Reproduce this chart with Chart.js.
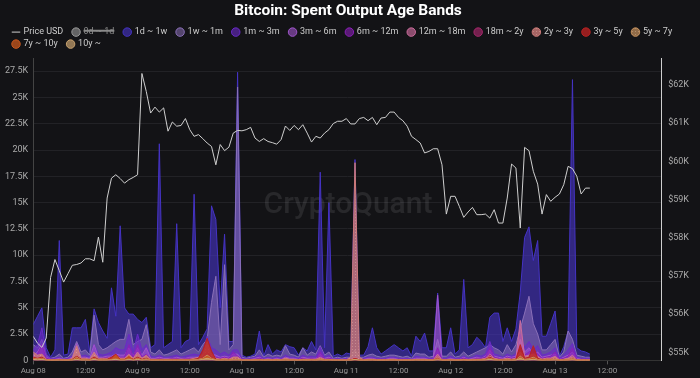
<!DOCTYPE html>
<html><head><meta charset="utf-8">
<script src="https://cdn.jsdelivr.net/npm/chart.js@4.4.1/dist/chart.umd.min.js"></script>
<style>html,body{margin:0;padding:0;background:#131316;}#wrap{width:700px;height:378px;position:relative;}</style>
</head><body><div id="wrap"><canvas id="c"></canvas></div>
<script>
// x positions: hours since Aug 08 00:00
const hours = Array.from({length: 129}, (_, i) => i);
const tickLabels = ["Aug 08","12:00","Aug 09","12:00","Aug 10","12:00","Aug 11","12:00","Aug 12","12:00","Aug 13","12:00"];
const volumeTicks = [0,2.5,5,7.5,10,12.5,15,17.5,20,22.5,25,27.5];
const priceTicks = [55000,56000,57000,58000,59000,60000,61000,62000];
const bandNames = ["0d ~ 1d","1d ~ 1w","1w ~ 1m","1m ~ 3m","3m ~ 6m","6m ~ 12m","12m ~ 18m","18m ~ 2y","2y ~ 3y","3y ~ 5y","5y ~ 7y","7y ~ 10y","10y ~"];

// Price USD
const priceUSD = [
55420,55240,55130,55375,56960,57430,57140,56840,57060,57280,57300,57340,
57450,57450,57400,58020,57360,59040,59560,59650,59550,59430,59520,59580,
59650,62300,61830,61265,61420,61290,61400,60790,61030,60920,60940,61120,
60830,60655,60700,60595,60480,60390,59910,60440,60280,60370,60740,60810,
60800,60830,60890,60610,60520,60595,60520,60490,60450,60570,60925,60810,
60940,60830,60960,60740,60505,60655,60610,60740,60830,60990,61050,61050,
61120,60980,60980,61120,61150,61065,61150,60960,61135,61150,61290,61290,
61150,61065,60920,60655,60570,60480,60220,60260,60330,60330,59910,58620,
59085,59085,58820,58535,58675,58795,58605,58605,58620,58515,58735,58385,
58385,59040,59930,59825,58255,60365,60280,59740,59405,58620,59130,58955,
59060,59145,59390,59870,59810,59610,59145,59300,59300];

// Spent output, thousands of BTC
const band0d1d = [];
const band1d1w = [
3.4,4.2,5.0,1.2,0.3,1.0,11.4,0.5,0.6,3.1,3.1,3.1,
3.9,0.8,4.9,3.6,2.8,2.1,6.9,4.2,12.8,5.0,4.4,4.4,
3.9,3.6,4.1,1.2,1.5,20.6,1.2,1.5,1.8,13.0,1.2,1.8,
2.0,15.8,1.5,2.2,3.0,14.7,13.4,5.0,12.0,1.8,1.8,27.4,
0.5,0.3,0.4,0.6,2.8,0.4,1.5,0.6,1.0,0.8,1.5,1.3,
1.2,0.5,1.2,0.9,1.8,1.0,17.9,1.2,15.0,0.4,0.6,0.4,
0.7,0.6,19.1,0.5,0.5,1.3,3.1,1.2,0.6,0.9,1.2,1.5,
1.2,0.9,1.2,0.4,2.3,1.8,2.6,0.9,0.9,6.4,1.2,1.2,
3.1,0.6,1.0,7.7,1.2,1.5,2.2,1.8,1.2,4.1,4.5,4.5,
1.8,3.1,1.8,3.0,6.5,11.7,12.7,9.5,11.4,2.3,2.3,3.5,
4.7,0.4,1.3,2.8,26.7,1.2,0.9,0.8,0.6];
const band1w1m = [
1.5,1.2,2.0,0.5,0.2,0.3,0.6,0.2,0.3,0.8,1.8,0.8,
1.0,0.5,4.3,1.5,1.0,1.2,1.5,1.8,2.0,2.0,3.9,1.5,
1.8,2.0,3.4,0.8,0.6,1.0,0.5,0.6,0.8,1.0,0.6,0.8,
1.0,1.2,0.8,1.5,2.0,5.5,8.0,1.5,9.1,1.0,1.5,26.0,
0.3,0.2,0.3,0.4,1.0,0.3,0.6,0.4,0.5,0.4,1.4,0.6,
0.5,0.3,1.2,0.5,0.8,0.6,1.4,0.5,0.8,0.2,0.3,0.2,
0.3,0.3,1.0,0.3,0.3,0.5,0.6,0.4,0.3,0.4,0.5,0.5,
0.4,0.3,0.4,0.2,0.7,0.6,0.6,0.3,0.4,2.0,0.4,0.4,
0.8,0.3,0.4,0.8,0.4,0.6,0.8,1.0,1.2,1.5,1.2,1.0,
0.6,1.5,0.8,1.5,3.0,4.5,6.1,3.5,2.5,1.0,1.0,1.5,
2.0,0.3,0.8,2.8,2.0,0.5,0.4,0.3,0.3];
const band1m3m = [
1.0,1.5,3.1,0.6,0.2,0.2,0.3,0.1,0.2,0.4,1.0,0.4,
0.5,0.3,1.5,0.6,0.5,0.6,0.8,1.2,1.0,1.0,2.5,0.8,
2.5,1.0,1.5,0.4,0.3,0.5,0.3,0.3,0.4,0.5,0.3,0.4,
0.5,0.6,0.5,0.8,2.3,1.2,1.0,0.6,0.8,0.5,1.0,1.0,
0.2,0.1,0.2,0.3,0.5,0.2,0.3,0.2,0.3,0.2,0.5,0.3,
0.3,0.2,0.5,0.3,0.4,0.3,1.3,0.3,0.5,0.1,0.2,0.1,
0.2,0.2,0.4,0.2,0.2,0.3,0.3,0.2,0.2,0.2,0.3,0.3,
0.2,0.2,0.2,0.1,0.4,0.3,0.3,0.2,0.2,0.8,0.2,0.2,
0.4,0.2,0.2,0.4,0.2,0.3,0.5,0.4,0.6,1.8,0.6,0.5,
0.3,0.6,0.4,0.6,2.5,1.2,1.8,1.0,1.4,0.5,0.6,0.8,
1.2,0.2,0.5,1.0,1.6,0.3,0.2,0.2,0.2];
const band3m6m = [
0.5,0.8,1.5,0.3,0.1,0.1,0.2,0.1,0.1,0.3,1.6,0.3,
0.3,0.2,1.5,0.3,0.3,0.4,0.4,0.6,0.5,0.5,1.2,0.4,
1.2,0.5,1.2,0.2,0.2,0.3,0.2,0.2,0.2,0.3,0.2,0.2,
0.3,0.3,0.3,0.5,1.2,0.6,0.5,0.3,0.4,0.3,0.6,0.6,
0.1,0.1,0.1,0.2,0.3,0.1,0.2,0.1,0.2,0.1,0.3,0.2,
0.2,0.1,0.3,0.2,0.2,0.2,0.6,0.2,0.3,0.1,0.1,0.1,
0.1,0.1,0.3,0.1,0.1,0.2,0.2,0.1,0.1,0.1,0.2,0.2,
0.1,0.1,0.1,0.1,0.2,0.2,0.2,0.1,0.1,6.2,0.1,0.1,
0.2,0.1,0.1,0.3,0.1,0.2,0.3,0.2,0.4,1.0,0.4,0.3,
0.2,0.4,0.3,0.4,2.0,0.8,1.2,0.6,0.8,0.3,0.4,0.5,
0.6,0.1,0.3,0.5,0.8,0.2,0.1,0.1,0.1];
const band6m12m = [
0.4,0.6,1.5,0.2,0.1,0.1,0.1,0.1,0.1,0.2,0.6,0.2,
0.2,0.1,0.6,0.2,0.2,0.3,0.3,0.5,0.3,0.3,1.5,0.3,
1.5,0.3,0.6,0.1,0.1,0.2,0.1,0.1,0.2,0.2,0.1,0.2,
0.2,0.2,0.2,0.4,1.5,0.4,0.3,0.2,0.3,0.2,0.8,0.4,
0.1,0.1,0.1,0.1,0.2,0.1,0.1,0.1,0.1,0.1,0.2,0.1,
0.1,0.1,0.2,0.1,0.2,0.1,0.8,0.1,0.2,0.1,0.1,0.1,
0.1,0.1,0.2,0.1,0.1,0.1,0.1,0.1,0.1,0.1,0.1,0.1,
0.1,0.1,0.1,0.1,0.1,0.1,0.1,0.1,0.1,1.2,0.1,0.1,
0.1,0.1,0.1,0.2,0.1,0.1,0.2,0.2,0.3,1.2,0.3,0.2,
0.1,0.3,0.2,0.3,1.2,0.5,0.8,1.0,0.6,0.2,0.3,0.4,
0.8,0.1,0.2,0.4,1.2,0.1,0.1,0.1,0.1];
const band12m18m = [
0.3,0.2,0.5,0.1,0.05,0.05,0.1,0.05,0.05,0.1,1.2,0.1,
0.1,0.1,0.8,0.1,0.1,0.1,0.2,0.3,0.2,0.2,0.6,0.2,
0.8,0.2,0.4,0.1,0.1,0.1,0.1,0.1,0.1,0.1,0.1,0.1,
0.1,0.1,0.2,0.4,1.5,0.4,0.2,0.1,0.2,0.1,0.3,0.3,
0.05,0.05,0.05,0.05,0.1,0.05,0.1,0.05,0.1,0.05,0.2,0.1,
0.1,0.05,0.1,0.1,0.1,0.1,0.3,0.1,0.1,0.05,0.05,0.05,
0.05,0.05,0.2,0.05,0.05,0.1,0.1,0.05,0.05,0.05,0.1,0.1,
0.05,0.05,0.05,0.05,0.1,0.1,0.1,0.05,0.05,0.6,0.05,0.05,
0.1,0.05,0.05,0.1,0.05,0.1,0.1,0.1,0.2,0.6,0.2,0.1,
0.1,0.2,0.1,0.2,3.8,0.4,0.5,0.6,0.4,0.1,0.2,0.2,
0.4,0.05,0.1,0.2,0.5,0.05,0.05,0.05,0.05];
const band18m2y = [
0.2,0.2,0.4,0.1,0.05,0.05,0.05,0.05,0.05,0.1,0.5,0.1,
0.1,0.05,0.4,0.1,0.1,0.1,0.2,0.3,0.1,0.1,0.4,0.1,
0.5,0.1,0.3,0.05,0.05,0.1,0.05,0.05,0.05,0.1,0.05,0.05,
0.1,0.1,0.1,0.3,0.8,0.3,0.1,0.1,0.1,0.1,0.2,0.2,
0.05,0.05,0.05,0.05,0.1,0.05,0.05,0.05,0.05,0.05,0.1,0.05,
0.05,0.05,0.1,0.05,0.1,0.05,0.2,0.05,0.1,0.05,0.05,0.05,
0.05,0.05,0.1,0.05,0.05,0.05,0.1,0.05,0.05,0.05,0.05,0.05,
0.05,0.05,0.05,0.05,0.1,0.05,0.05,0.05,0.05,0.4,0.05,0.05,
0.05,0.05,0.05,0.1,0.05,0.05,0.1,0.1,0.15,0.5,0.15,0.1,
0.05,0.1,0.05,0.1,1.2,0.2,0.3,0.4,0.2,0.05,0.1,0.1,
0.2,0.05,0.05,0.1,0.3,0.05,0.05,0.05,0.05];
const band2y3y = [
0.8,0.5,0.6,0.1,0.05,0.05,0.1,0.05,0.05,0.2,1.4,0.2,
0.2,0.1,0.7,0.2,0.2,0.2,0.3,0.5,0.2,0.2,0.5,0.2,
0.6,0.2,0.5,0.1,0.1,0.1,0.1,0.1,0.1,0.1,0.1,0.1,
0.1,0.2,0.3,0.6,1.8,0.6,0.2,0.1,0.2,0.1,0.3,0.3,
0.05,0.05,0.05,0.1,0.1,0.05,0.1,0.05,0.1,0.05,0.2,0.1,
0.1,0.05,0.1,0.1,0.1,0.1,0.2,0.1,0.1,0.05,0.05,0.05,
0.05,0.3,18.8,0.3,0.05,0.1,0.1,0.05,0.05,0.05,0.1,0.1,
0.05,0.05,0.05,0.05,0.1,0.1,0.1,0.05,0.05,0.4,0.05,0.05,
0.1,0.05,0.05,0.1,0.05,0.1,0.1,0.1,0.2,0.4,0.2,0.1,
0.1,0.2,0.1,0.2,0.8,0.3,0.4,0.5,0.3,0.1,0.2,0.2,
0.3,0.05,0.1,0.2,0.3,0.05,0.05,0.05,0.05];
const band3y5y = [
0.3,0.2,0.3,0.05,0.02,0.02,0.05,0.02,0.02,0.1,0.4,0.1,
0.1,0.05,0.3,0.1,0.1,0.1,0.3,0.6,0.1,0.1,0.3,0.1,
0.3,0.1,0.2,0.05,0.05,0.05,0.05,0.05,0.05,0.05,0.05,0.05,
0.05,0.1,0.2,1.0,2.1,0.9,0.1,0.05,0.1,0.05,0.1,0.1,
0.02,0.02,0.02,0.03,0.05,0.02,0.03,0.02,0.03,0.02,0.05,0.03,
0.03,0.02,0.05,0.03,0.05,0.03,0.1,0.03,0.05,0.02,0.02,0.02,
0.02,0.05,0.2,0.05,0.02,0.03,0.05,0.02,0.02,0.02,0.03,0.03,
0.02,0.02,0.02,0.02,0.05,0.03,0.03,0.02,0.02,0.2,0.02,0.02,
0.03,0.02,0.02,0.05,0.02,0.03,0.05,0.05,0.1,0.3,0.1,0.05,
0.05,0.1,0.05,0.1,1.5,0.2,0.3,1.4,0.2,0.05,0.1,0.1,
0.1,0.02,0.03,0.05,0.15,0.02,0.02,0.02,0.02];
const band5y7y = [
0.2,0.15,0.2,0.05,0.02,0.02,0.03,0.02,0.02,0.05,0.3,0.05,
0.05,0.03,0.2,0.05,0.05,0.05,0.1,0.2,0.05,0.05,0.2,0.05,
0.2,0.05,0.15,0.03,0.03,0.03,0.03,0.03,0.03,0.03,0.03,0.03,
0.03,0.05,0.1,0.2,0.5,0.2,0.05,0.03,0.05,0.03,0.1,0.1,
0.02,0.02,0.02,0.03,0.05,0.02,0.03,0.02,0.03,0.02,0.05,0.03,
0.03,0.02,0.05,0.03,0.05,0.03,0.1,0.03,0.05,0.02,0.02,0.02,
0.02,0.03,0.1,0.03,0.02,0.03,0.05,0.02,0.02,0.02,0.03,0.03,
0.02,0.02,0.02,0.02,0.05,0.03,0.03,0.02,0.02,0.15,0.02,0.02,
0.03,0.02,0.02,0.05,0.02,0.03,0.05,0.05,0.08,0.2,0.08,0.05,
0.03,0.05,0.03,0.05,0.4,0.1,0.15,0.3,0.1,0.03,0.05,0.05,
0.1,0.02,0.03,0.05,0.15,0.02,0.02,0.02,0.02];
const band7y10y = [
0.15,0.1,0.15,0.03,0.01,0.01,0.02,0.01,0.01,0.03,0.2,0.03,
0.03,0.02,0.15,0.03,0.03,0.05,0.1,0.5,0.05,0.05,0.4,0.03,
0.15,0.03,0.1,0.02,0.02,0.02,0.02,0.02,0.02,0.02,0.02,0.02,
0.02,0.03,0.05,0.15,0.4,0.15,0.03,0.02,0.03,0.02,0.05,0.05,
0.01,0.01,0.01,0.02,0.03,0.01,0.02,0.01,0.02,0.01,0.03,0.02,
0.02,0.01,0.03,0.02,0.03,0.02,0.05,0.02,0.03,0.01,0.01,0.01,
0.01,0.02,0.05,0.02,0.01,0.02,0.03,0.01,0.01,0.01,0.02,0.02,
0.01,0.01,0.01,0.01,0.03,0.02,0.02,0.01,0.01,0.1,0.01,0.01,
0.02,0.01,0.01,0.03,0.01,0.02,0.03,0.03,0.05,0.15,0.05,0.03,
0.02,0.03,0.02,0.03,0.3,0.05,0.1,0.2,0.05,0.02,0.03,0.03,
0.05,0.01,0.02,0.03,0.1,0.01,0.01,0.01,0.01];
const band10yPlus = [
0.1,0.05,0.1,0.02,0.01,0.01,0.01,0.01,0.01,0.02,0.1,0.02,
0.02,0.01,0.1,0.02,0.02,0.02,0.05,0.1,0.02,0.02,0.1,0.02,
0.1,0.02,0.05,0.01,0.01,0.01,0.01,0.01,0.01,0.01,0.01,0.01,
0.01,0.02,0.03,0.1,0.2,0.1,0.02,0.01,0.02,0.01,0.03,0.03,
0.01,0.01,0.01,0.01,0.01,0.01,0.01,0.01,0.01,0.01,0.01,0.01,
0.01,0.01,0.02,0.01,0.02,0.01,0.03,0.01,0.02,0.01,0.01,0.01,
0.01,0.01,0.1,0.01,0.01,0.01,0.02,0.01,0.01,0.01,0.01,0.01,
0.01,0.01,0.01,0.01,0.02,0.01,0.01,0.01,0.01,0.05,0.01,0.01,
0.01,0.01,0.01,0.02,0.01,0.01,0.02,0.02,0.03,0.1,0.03,0.02,
0.01,0.02,0.01,0.02,0.2,0.03,0.05,0.1,0.03,0.01,0.02,0.02,
0.03,0.01,0.01,0.02,0.05,0.01,0.01,0.01,0.01];

const bandData = [band0d1d, band1d1w, band1w1m, band1m3m, band3m6m, band6m12m, band12m18m, band18m2y, band2y3y, band3y5y, band5y7y, band7y10y, band10yPlus];
const bandColors = ["#9a9a9a","#4533c4","#8a70b8","#6a2ac8","#a055cc","#8a20b8","#cc6c9c","#a8286c","#cc7a78","#b82222","#c8935e","#c8581e","#c9a36f"];
const bandAlpha = [0.6,0.62,0.55,0.6,0.6,0.6,0.65,0.65,0.8,0.8,0.7,0.75,0.7];
const dotted = [false,false,false,false,false,false,false,false,true,false,true,false,false];

function rgba(hex, a){const n=parseInt(hex.slice(1),16);return `rgba(${n>>16},${(n>>8)&255},${n&255},${a})`;}
function dotPattern(hex, a){
  const c=document.createElement('canvas');c.width=3;c.height=3;const g=c.getContext('2d');
  g.fillStyle=rgba(hex,a);g.fillRect(0,0,3,3);
  g.fillStyle='rgba(255,215,195,0.3)';g.fillRect(1,1,1,1);
  return g.createPattern(c,'repeat');
}

const datasets = [{
  label: "Price USD", data: priceUSD, yAxisID: 'y1', borderColor: '#cfcfcf', backgroundColor: '#cfcfcf',
  borderWidth: 1, pointRadius: 0, pointStyle: 'line', fill: false, tension: 0, order: 0
}];
bandNames.forEach((name, i) => {
  datasets.push({
    label: name, data: bandData[i], yAxisID: 'y',
    borderColor: bandColors[i],
    backgroundColor: dotted[i] ? dotPattern(bandColors[i], bandAlpha[i]) : rgba(bandColors[i], bandAlpha[i]),
    borderWidth: 1, pointRadius: 0, pointStyle: 'circle', fill: 'origin', tension: 0,
    hidden: i === 0, order: i === 0 ? 13 : 13 - i
  });
});

const bgPlugin = {
  id: 'bg',
  beforeDraw(chart){const {ctx}=chart;ctx.save();ctx.fillStyle='#131316';ctx.fillRect(0,0,chart.width,chart.height);ctx.restore();},
  beforeDatasetsDraw(chart){
    const {ctx}=chart;ctx.save();
    ctx.font='500 30px Roboto';ctx.fillStyle='rgba(255,255,255,0.09)';ctx.textAlign='center';ctx.textBaseline='middle';
    ctx.fillText('CryptoQuant', 348, 205);ctx.restore();
  }
};

Chart.defaults.font.family = 'Roboto, "Liberation Sans", sans-serif';
const chart = new Chart(document.getElementById('c'), {
  type: 'line',
  data: { labels: hours, datasets },
  plugins: [bgPlugin],
  options: {
    responsive: true, maintainAspectRatio: false, animation: false,
    layout: { padding: { left: 0, right: 4, top: 0, bottom: 0 } },
    plugins: {
      tooltip: { enabled: false },
      title: { display: true, text: 'Bitcoin: Spent Output Age Bands', color: '#ffffff',
        font: { size: 15.5, weight: 'bold' }, padding: { top: 2, bottom: 4 } },
      legend: {
        position: 'top', align: 'start',
        labels: {
          usePointStyle: true, boxWidth: 6, boxHeight: 6, padding: 3, color: '#cccccc',
          font: { size: 9 },
          sort: (a, b) => a.datasetIndex - b.datasetIndex,
          generateLabels(chart) {
            const items = Chart.defaults.plugins.legend.labels.generateLabels(chart);
            items.forEach(it => { it.text = it.text + '\u2002 '; if (it.hidden) it.fontColor = '#8a8a8a'; });
            return items;
          }
        }
      }
    },
    scales: {
      x: {
        type: 'linear', min: 0, max: 144.4,
        grid: { display: true, drawOnChartArea: false, drawTicks: true, tickLength: 4, color: '#555' },
        border: { color: '#333' },
        ticks: { stepSize: 12, includeBounds: false, autoSkip: false, maxRotation: 0, color: '#999', font: { size: 8 }, padding: 2,
          callback: (v) => tickLabels[v / 12] }
      },
      y: {
        position: 'left', min: 0, max: 28.7,
        grid: { color: '#222226', drawTicks: false },
        border: { color: '#444' },
        afterBuildTicks: (s) => { s.ticks = volumeTicks.map(v => ({ value: v })); },
        ticks: { color: '#aaa', font: { size: 9 }, padding: 5,
          callback: (v) => v === 0 ? '0' : v + 'K' }
      },
      y1: {
        position: 'right', min: 54790, max: 62690,
        grid: { drawOnChartArea: false, drawTicks: false },
        border: { color: '#cfcfcf' },
        afterBuildTicks: (s) => { s.ticks = priceTicks.map(v => ({ value: v })); },
        ticks: { color: '#aaa', font: { size: 9 }, padding: 7,
          callback: (v) => '$' + (v / 1000) + 'K' }
      }
    }
  }
});
// shift the legend block right, as in the reference
const legendDraw = chart.legend.draw.bind(chart.legend);
chart.legend.draw = function(area){ const c=this.ctx; c.save(); c.translate(10,0); legendDraw(area); c.restore(); };
chart.draw();
</script></body></html>
